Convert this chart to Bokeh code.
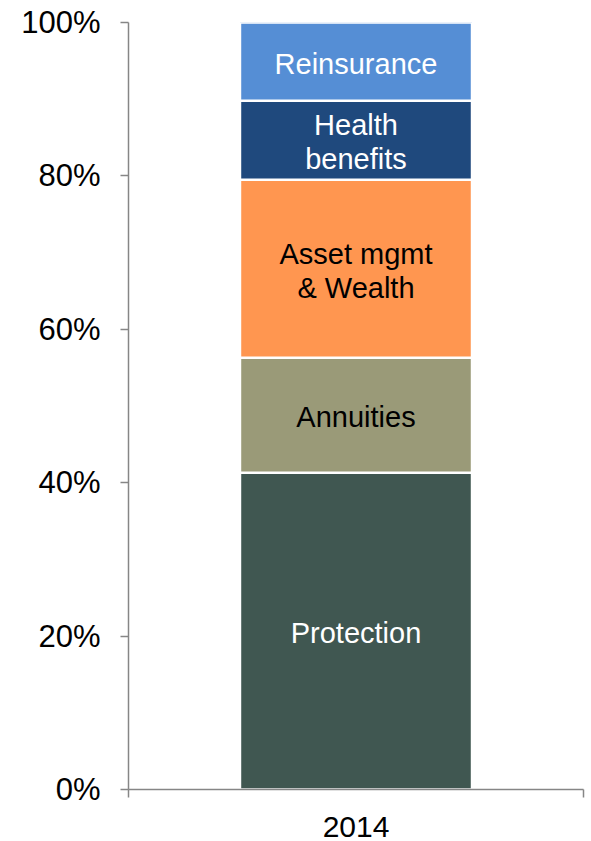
import numpy as np
from bokeh.plotting import figure
from bokeh.models import ColumnDataSource, FixedTicker, LinearAxis, Range1d
from bokeh.core.properties import value
from bokeh.embed import file_html
from bokeh.resources import INLINE

categories = ["2014"]
segments = ["Protection", "Annuities", "Asset mgmt\n& Wealth", "Health\nbenefits", "Reinsurance"]
shares = [41.3, 15.0, 23.2, 10.3, 10.2]
colors = ["#405751", "#9A9A78", "#FF9650", "#1F497D", "#558ED5"]
label_colors = ["white", "black", "black", "white", "white"]
y_ticks = [0, 20, 40, 60, 80, 100]
y_tick_labels = ["0%", "20%", "40%", "60%", "80%", "100%"]

tops = np.cumsum(shares)
bottoms = tops - np.array(shares)
xc = 0.5  # centre of the single category slot [0, 1]

src = ColumnDataSource(dict(
    x=[xc] * len(segments), top=list(tops), bottom=list(bottoms),
    mid=list((tops + bottoms) / 2), color=colors, name=segments, lc=label_colors,
))

p = figure(width=591, height=841, output_backend="svg", toolbar_location=None,
           x_range=Range1d(0, len(categories)), y_range=Range1d(0, 100),
           x_axis_type=None, y_axis_type=None,
           min_border_left=128, min_border_right=8, min_border_top=22, min_border_bottom=52)
p.outline_line_color = None
p.xgrid.visible = False
p.ygrid.visible = False
p.background_fill_color = "white"
p.border_fill_color = "white"

p.vbar(x="x", width=0.51, top="top", bottom="bottom", fill_color="color",
       line_color="white", line_width=2.5, source=src)

p.text(x="x", y="mid", text="name", text_color="lc", source=src,
       text_align="center", text_baseline="middle", y_offset=2,
       text_font=value("Liberation Sans"), text_font_size="29px", text_line_height=1.05)

axis_color = "#868686"
yaxis = LinearAxis(ticker=FixedTicker(ticks=y_ticks),
                   major_label_overrides={t: l for t, l in zip(y_ticks, y_tick_labels)})
yaxis.axis_line_color = axis_color
yaxis.axis_line_width = 1.5
yaxis.major_tick_line_color = axis_color
yaxis.major_tick_line_width = 1.5
yaxis.major_tick_out = 8
yaxis.major_tick_in = 0
yaxis.minor_tick_line_color = None
yaxis.major_label_text_font = "Liberation Sans"
yaxis.major_label_text_font_size = "31px"
yaxis.major_label_text_color = "black"
yaxis.major_label_standoff = 20
p.add_layout(yaxis, "left")

xaxis = LinearAxis(ticker=FixedTicker(ticks=[i + 0.5 for i in range(len(categories))],
                                      minor_ticks=list(range(len(categories) + 1))),
                   major_label_overrides={i + 0.5: c for i, c in enumerate(categories)})
xaxis.axis_line_color = axis_color
xaxis.axis_line_width = 1.5
xaxis.major_tick_line_color = None
xaxis.major_tick_out = 0
xaxis.major_tick_in = 0
xaxis.minor_tick_line_color = axis_color
xaxis.minor_tick_line_width = 1.5
xaxis.minor_tick_out = 8
xaxis.minor_tick_in = 0
xaxis.major_label_text_font = "Liberation Sans"
xaxis.major_label_text_font_size = "30px"
xaxis.major_label_text_color = "black"
xaxis.major_label_standoff = 19
p.add_layout(xaxis, "below")

open("out.html", "w").write(file_html(p, INLINE))
